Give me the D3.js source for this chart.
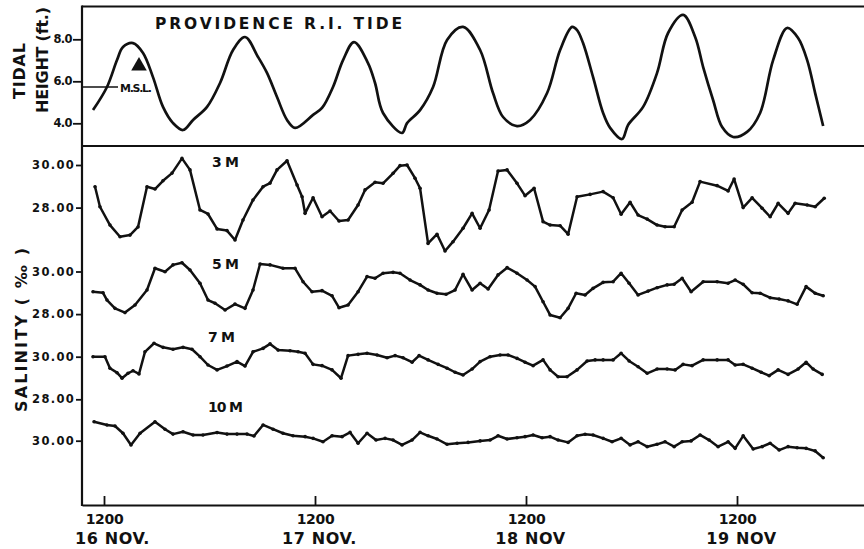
<!DOCTYPE html>
<html>
<head>
<meta charset="utf-8">
<script src="https://cdn.jsdelivr.net/npm/d3@7"></script>
<style>
  html, body { margin: 0; padding: 0; background: #fff; }
  svg { display: block; }
  text { font-family: "DejaVu Sans", sans-serif; font-weight: bold; fill: #111; }
</style>
</head>
<body>
<svg id="chart" width="864" height="549"></svg>
<script>
// ---- time axis (hours from 0000, 16 Nov) ----
const hourTicks = [12, 36, 60, 84];
const hourTickLabels = ["1200", "1200", "1200", "1200"];
const dayLabels = ["16 NOV.", "17 NOV.", "18 NOV", "19 NOV"];

// ---- tide panel ----
const tideTicks = [4, 6, 8];
const meanSeaLevel = 5.73;
const tideMarker = [15.98, 6.73];   // [hour, ft]
const tideTitle = "PROVIDENCE R.I. TIDE";

// Providence tide height, [hour, ft]
const tide = [
  [10.75, 4.63], [12.34, 5.73], [13.48, 7.01], [14.16, 7.63], [15.30, 7.82], [16.44, 7.35],
  [17.57, 6.20], [18.71, 4.78], [19.85, 4.01], [20.99, 3.68], [22.13, 4.16], [23.72, 4.78],
  [25.20, 5.92], [26.68, 7.49], [28.04, 8.11], [29.52, 7.16], [30.54, 6.40], [31.68, 5.25],
  [32.82, 4.16], [33.73, 3.78], [35.78, 4.40], [36.80, 4.73], [38.05, 5.73], [39.19, 7.01],
  [40.44, 7.87], [42.03, 6.87], [42.83, 5.92], [43.74, 4.49], [45.90, 3.54], [46.47, 4.01],
  [47.95, 4.63], [49.43, 5.73], [51.02, 7.97], [52.84, 8.59], [54.78, 7.49], [56.25, 5.44],
  [57.39, 4.30], [58.98, 3.87], [60.46, 4.16], [62.40, 5.44], [63.88, 7.49], [65.24, 8.59],
  [65.81, 8.44], [66.49, 7.82], [67.63, 6.20], [68.77, 4.49], [69.57, 3.78], [70.93, 3.25],
  [71.61, 3.92], [73.32, 4.78], [74.91, 6.40], [76.16, 8.30], [77.87, 9.16], [79.24, 8.11],
  [80.15, 6.68], [81.28, 5.11], [82.31, 3.82], [83.56, 3.35], [85.15, 3.59], [86.63, 4.49],
  [88.11, 7.01], [89.70, 8.54], [90.95, 8.06], [91.98, 7.01], [92.89, 5.44], [93.80, 3.87]
];

// ---- salinity panel ----
const salinityTicks = [28, 30];
const depthLabels = ["3 M", "5 M", "7 M", "10 M"];

// salinity (per mille), [hour, value]
const sal3m = [
  [10.98, 28.98], [11.54, 28.04], [12.68, 27.18], [13.82, 26.63], [14.96, 26.71], [15.87, 27.09],
  [16.89, 28.98], [17.80, 28.87], [18.71, 29.26], [19.74, 29.62], [20.87, 30.31], [21.78, 29.77],
  [22.92, 27.89], [23.83, 27.70], [24.86, 27.00], [25.99, 26.92], [26.90, 26.48], [27.81, 27.42],
  [28.95, 28.36], [30.09, 28.98], [30.89, 29.15], [31.68, 29.77], [32.82, 30.20], [33.96, 29.06],
  [34.53, 28.51], [34.87, 27.73], [35.78, 28.46], [36.80, 27.57], [37.71, 27.84], [38.73, 27.37],
  [39.76, 27.42], [40.90, 28.12], [41.69, 28.83], [42.83, 29.19], [43.74, 29.14], [44.88, 29.61],
  [45.67, 29.97], [46.47, 30.00], [47.38, 29.38], [47.95, 28.91], [48.86, 26.32], [49.88, 26.75],
  [50.79, 25.96], [51.70, 26.40], [52.84, 27.03], [53.87, 27.73], [54.78, 27.03], [55.80, 27.89],
  [56.82, 29.72], [57.85, 29.77], [58.98, 29.14], [59.89, 28.56], [60.92, 28.91], [61.94, 27.34],
  [62.74, 27.18], [63.88, 27.15], [64.79, 26.75], [65.81, 28.51], [67.29, 28.62], [68.77, 28.75],
  [69.91, 28.46], [70.82, 27.69], [71.84, 28.25], [72.75, 27.65], [73.78, 27.46], [74.91, 27.18],
  [75.82, 27.10], [76.85, 27.10], [77.76, 27.89], [78.89, 28.25], [79.80, 29.22], [81.74, 29.03],
  [82.99, 28.78], [83.67, 29.34], [84.70, 28.00], [85.72, 28.46], [86.86, 27.97], [87.77, 27.57],
  [88.68, 28.20], [89.81, 27.73], [90.61, 28.20], [91.98, 28.12], [92.89, 28.04], [93.92, 28.44]
];
const sal5m = [
  [10.75, 29.05], [11.89, 29.00], [12.34, 28.66], [13.25, 28.27], [14.39, 28.07], [15.53, 28.43],
  [16.89, 29.13], [17.80, 30.15], [18.94, 29.99], [19.85, 30.31], [20.87, 30.41], [21.78, 30.07],
  [22.92, 29.45], [23.83, 28.66], [24.63, 28.51], [25.77, 28.19], [26.90, 28.47], [28.04, 28.27],
  [28.95, 29.13], [29.75, 30.35], [30.89, 30.31], [32.36, 30.15], [33.73, 30.15], [34.64, 29.52],
  [35.66, 29.05], [36.80, 29.10], [37.94, 28.86], [38.73, 28.30], [39.76, 28.43], [40.90, 29.05],
  [41.92, 29.76], [42.83, 29.68], [43.74, 29.92], [44.88, 29.96], [45.67, 29.92], [46.81, 29.60],
  [47.95, 29.37], [48.86, 29.13], [49.88, 28.98], [50.91, 28.93], [51.93, 29.13], [52.84, 29.87],
  [53.87, 29.13], [54.78, 29.45], [55.69, 29.18], [56.82, 29.84], [57.85, 30.18], [58.98, 29.92],
  [60.12, 29.60], [61.03, 29.29], [61.94, 28.58], [62.74, 27.96], [63.88, 27.83], [64.79, 28.27],
  [65.70, 28.98], [66.72, 28.90], [67.63, 29.21], [68.77, 29.49], [69.91, 29.52], [70.82, 29.92],
  [71.73, 29.45], [72.75, 28.90], [73.89, 29.08], [74.91, 29.24], [76.05, 29.37], [76.85, 29.40],
  [77.76, 29.68], [78.78, 29.05], [80.15, 29.52], [81.74, 29.52], [82.99, 29.45], [83.79, 29.60],
  [84.70, 29.40], [85.72, 29.00], [86.63, 28.98], [87.77, 28.77], [88.79, 28.71], [89.81, 28.62],
  [90.84, 28.46], [91.86, 29.29], [92.89, 28.98], [93.80, 28.86]
];
const sal7m = [
  [10.75, 30.00], [12.11, 30.00], [12.68, 29.46], [13.48, 29.25], [14.05, 28.99], [14.73, 29.22],
  [15.30, 29.34], [15.98, 29.19], [16.66, 30.23], [17.69, 30.63], [18.71, 30.44], [19.85, 30.35],
  [20.99, 30.44], [22.01, 30.35], [22.92, 30.00], [23.83, 29.61], [24.86, 29.38], [25.99, 29.56],
  [27.13, 29.77], [28.04, 29.56], [28.95, 30.23], [30.09, 30.39], [30.89, 30.60], [31.80, 30.31],
  [33.16, 30.28], [34.07, 30.23], [34.87, 30.16], [35.78, 29.64], [36.80, 29.58], [37.94, 29.38],
  [38.96, 28.99], [39.76, 30.05], [40.90, 30.11], [41.92, 30.16], [43.06, 30.08], [44.20, 29.95],
  [45.11, 30.05], [46.02, 29.95], [47.04, 29.74], [47.84, 30.05], [48.86, 29.85], [50.00, 29.64],
  [51.02, 29.46], [51.93, 29.27], [52.84, 29.14], [53.87, 29.42], [54.78, 29.77], [55.91, 30.00],
  [57.05, 30.08], [57.96, 30.08], [58.98, 29.92], [59.89, 29.74], [60.81, 29.58], [61.94, 29.85],
  [62.74, 29.38], [63.65, 29.06], [64.67, 29.06], [65.81, 29.38], [66.95, 29.80], [67.86, 29.85],
  [68.77, 29.85], [69.91, 29.85], [70.82, 30.16], [71.73, 29.80], [72.75, 29.53], [73.78, 29.22],
  [74.91, 29.42], [76.05, 29.42], [76.96, 29.38], [77.87, 29.64], [78.89, 29.58], [80.15, 29.85],
  [81.74, 29.85], [82.99, 29.85], [83.79, 29.61], [84.70, 29.64], [85.72, 29.46], [86.75, 29.27],
  [87.66, 29.11], [88.68, 29.38], [89.81, 29.17], [90.95, 29.42], [91.86, 29.74], [92.66, 29.42],
  [93.69, 29.17]
];
const sal10m = [
  [10.87, 30.89], [12.34, 30.74], [13.25, 30.69], [14.16, 30.35], [15.07, 29.80], [16.10, 30.35],
  [17.80, 30.89], [18.94, 30.54], [19.85, 30.31], [20.99, 30.42], [22.13, 30.27], [23.26, 30.27],
  [24.86, 30.38], [25.99, 30.31], [27.13, 30.31], [28.27, 30.31], [29.06, 30.22], [30.09, 30.74],
  [31.23, 30.54], [32.36, 30.35], [33.50, 30.23], [34.87, 30.19], [35.78, 30.11], [36.91, 29.95],
  [37.94, 30.23], [39.08, 30.19], [39.99, 30.39], [40.90, 29.88], [41.92, 30.35], [42.94, 30.03],
  [43.97, 30.11], [44.88, 30.03], [45.90, 29.80], [47.04, 30.03], [47.95, 30.39], [48.86, 30.23],
  [49.88, 30.08], [51.02, 29.83], [52.16, 29.88], [53.41, 29.92], [54.78, 29.99], [55.91, 30.03],
  [56.82, 30.23], [57.85, 30.08], [58.98, 30.14], [59.89, 30.19], [60.81, 30.27], [61.83, 30.14],
  [62.74, 30.19], [63.65, 30.03], [64.79, 29.92], [65.81, 30.23], [66.72, 30.30], [67.63, 30.27],
  [68.77, 30.11], [69.79, 29.95], [70.82, 30.11], [71.84, 29.80], [72.75, 29.95], [73.78, 29.72],
  [74.91, 29.83], [75.82, 29.95], [76.85, 29.72], [77.76, 29.95], [78.78, 29.99], [79.80, 30.27],
  [80.83, 30.03], [81.85, 29.72], [82.99, 29.95], [83.79, 29.64], [84.70, 30.23], [85.84, 29.61],
  [86.86, 29.72], [87.77, 29.88], [88.79, 29.56], [89.81, 29.72], [90.84, 29.67], [91.86, 29.64],
  [92.89, 29.52], [93.80, 29.20]
];

// ================= drawing =================
const svg = d3.select("#chart");
const left = 82, right = 864;
const frameTop = 6.5, divider = 146, baseY = 505;

// time scale: noon ticks spaced one day apart, extended to the frame edges
const x = d3.scaleLinear().domain([12, 84]).range([104, 737]);
x.domain([x.invert(left), x.invert(right)]).range([left, right]);

// tide scale
const yTide = d3.scaleLinear().domain([4, 8]).range([123.3, 39.3]);

// one salinity scale per depth, each with its own vertical offset
const bandTop30 = [165, 271.5, 356.7, 440.7];
const unitPx = 21.3;
const salScales = bandTop30.map(y30 =>
  d3.scaleLinear().domain([28, 30]).range([y30 + 2 * unitPx, y30]));
const salSeries = [sal3m, sal5m, sal7m, sal10m];

// ---- frame ----
const frame = svg.append("g").attr("stroke", "#111").attr("stroke-width", 2.2).attr("fill", "none");
frame.append("line").attr("x1", left).attr("x2", right).attr("y1", frameTop).attr("y2", frameTop);
frame.append("line").attr("x1", left).attr("x2", right).attr("y1", divider).attr("y2", divider);
frame.append("line").attr("x1", left).attr("x2", left).attr("y1", frameTop - 1).attr("y2", baseY + 1);

// ---- bottom time axis ----
const xAxis = d3.axisBottom(x)
  .tickValues(hourTicks)
  .tickSize(-9)
  .tickSizeOuter(0)
  .tickPadding(9)
  .tickFormat((d, i) => hourTickLabels[i]);
const gx = svg.append("g").attr("transform", `translate(0,${baseY})`).call(xAxis);
gx.select(".domain").attr("stroke", "#111").attr("stroke-width", 2.2);
gx.selectAll(".tick line").attr("stroke", "#111").attr("stroke-width", 1.8);
gx.selectAll(".tick text")
  .attr("font-family", "DejaVu Sans, sans-serif")
  .attr("font-weight", "bold")
  .attr("font-size", 14)
  .attr("letter-spacing", -0.3)
  .attr("fill", "#111");
gx.selectAll(".tick").append("text")
  .attr("y", 39)
  .attr("x", (d, i) => i === 0 ? 8 : 4)
  .attr("text-anchor", "middle")
  .attr("font-family", "DejaVu Sans, sans-serif")
  .attr("font-weight", "bold")
  .attr("font-size", 16)
  .attr("letter-spacing", 0.6)
  .attr("fill", "#111")
  .text((d, i) => dayLabels[i]);

// ---- tide axis ----
const tideAxis = d3.axisLeft(yTide)
  .tickValues(tideTicks)
  .tickSize(9)
  .tickPadding(1)
  .tickFormat(d3.format(".1f"));
const gt = svg.append("g").attr("transform", `translate(${left},0)`).call(tideAxis);
gt.select(".domain").remove();
gt.selectAll(".tick line").attr("stroke", "#111").attr("stroke-width", 1.8);
gt.selectAll(".tick text")
  .attr("font-family", "DejaVu Sans, sans-serif")
  .attr("font-weight", "bold")
  .attr("font-size", 11.5)
  .attr("letter-spacing", -0.6)
  .attr("fill", "#111");

// mean sea level reference
svg.append("line")
  .attr("x1", left).attr("x2", 118)
  .attr("y1", yTide(meanSeaLevel)).attr("y2", yTide(meanSeaLevel))
  .attr("stroke", "#111").attr("stroke-width", 1.6);
svg.append("text")
  .attr("x", 120).attr("y", yTide(meanSeaLevel) + 5.5)
  .attr("font-size", 11)
  .attr("textLength", 32).attr("lengthAdjust", "spacing")
  .text("M.S.L.");

// tide curve
svg.append("path")
  .datum(tide)
  .attr("fill", "none")
  .attr("stroke", "#111")
  .attr("stroke-width", 2.7)
  .attr("stroke-linejoin", "round")
  .attr("d", d3.line().x(d => x(d[0])).y(d => yTide(d[1])).curve(d3.curveCatmullRom.alpha(0.5)));

// marker
svg.append("path")
  .attr("transform", `translate(${x(tideMarker[0])},${yTide(tideMarker[1])})`)
  .attr("d", d3.symbol(d3.symbolTriangle, 105)())
  .attr("fill", "#111");

svg.append("text")
  .attr("x", 155).attr("y", 29)
  .attr("font-size", 15.5)
  .attr("textLength", 247).attr("lengthAdjust", "spacing")
  .text(tideTitle);

// tide axis title
svg.append("text")
  .attr("transform", "translate(25,71) rotate(-90)")
  .attr("text-anchor", "middle")
  .attr("font-size", 16)
  .attr("textLength", 56).attr("lengthAdjust", "spacing")
  .text("TIDAL");
svg.append("text")
  .attr("transform", "translate(48,60) rotate(-90)")
  .attr("text-anchor", "middle")
  .attr("font-size", 16)
  .attr("textLength", 106).attr("lengthAdjust", "spacing")
  .text("HEIGHT (ft.)");

// ---- salinity bands ----
const salLine = s => d3.line().x(d => x(d[0])).y(d => s(d[1]));
salScales.forEach((s, i) => {
  const ticks = i === salScales.length - 1 ? [30] : salinityTicks;
  const ax = d3.axisLeft(s)
    .tickValues(ticks)
    .tickSize(6)
    .tickPadding(1)
    .tickFormat(d3.format(".2f"));
  const g = svg.append("g").attr("transform", `translate(${left},0)`).call(ax);
  g.select(".domain").remove();
  g.selectAll(".tick line").attr("stroke", "#111").attr("stroke-width", 1.8);
  g.selectAll(".tick text")
    .attr("font-family", "DejaVu Sans, sans-serif")
    .attr("font-weight", "bold")
    .attr("font-size", 11.5)
    .attr("letter-spacing", 1.3)
    .attr("fill", "#111");

  const data = salSeries[i];
  svg.append("path")
    .datum(data)
    .attr("fill", "none")
    .attr("stroke", "#111")
    .attr("stroke-width", 2.5)
    .attr("stroke-linejoin", "round")
    .attr("stroke-linecap", "round")
    .attr("d", salLine(s));
  svg.append("g").selectAll("circle")
    .data(data)
    .join("circle")
    .attr("cx", d => x(d[0]))
    .attr("cy", d => s(d[1]))
    .attr("r", 1.8)
    .attr("fill", "#111");
});

// depth labels
const depthLabelPos = [[212, 166.5], [212, 269], [208, 342], [208, 412]];
depthLabels.forEach((t, i) => {
  svg.append("text")
    .attr("x", depthLabelPos[i][0]).attr("y", depthLabelPos[i][1])
    .attr("font-size", 14)
    .attr("textLength", t.length > 3 ? 35 : 27).attr("lengthAdjust", "spacing")
    .text(t);
});

// salinity axis title
svg.append("text")
  .attr("transform", "translate(27,330) rotate(-90)")
  .attr("text-anchor", "middle")
  .attr("font-size", 16)
  .attr("textLength", 164).attr("lengthAdjust", "spacing")
  .text("SALINITY ( \u2030 )");
</script>
</body>
</html>
